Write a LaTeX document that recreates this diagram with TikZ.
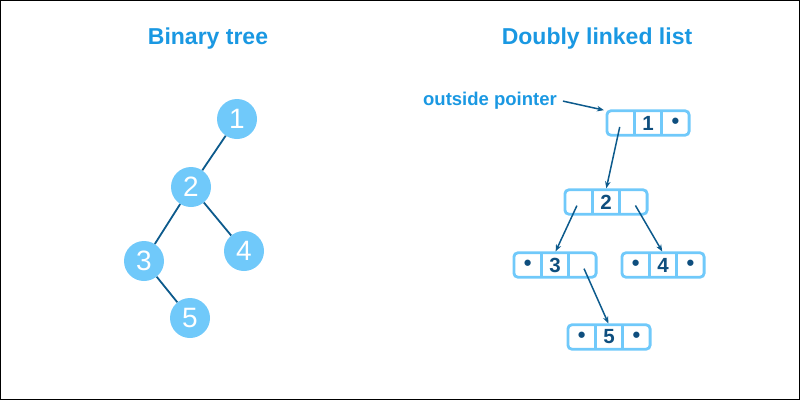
\documentclass[tikz,border=0pt]{standalone}
\usepackage{fontspec}
\setmainfont{Liberation Sans}
\usetikzlibrary{positioning,fit,arrows.meta}
\definecolor{titleblue}{HTML}{1A98E2}
\definecolor{nodeblue}{HTML}{70C9FA}
\definecolor{linkblue}{HTML}{0C5A8C}
\definecolor{textblue}{HTML}{0E4E7E}
\newcommand{\nullmark}{{\fontsize{22}{22}\selectfont\textbullet}}
\begin{document}
\begin{tikzpicture}[x=1pt, y=-1pt,
    title/.style={anchor=base, text=titleblue, font=\fontsize{23}{26}\selectfont\bfseries},
    treenode/.style={circle, fill=nodeblue, minimum size=40pt, inner sep=0pt, text=white, font=\fontsize{28}{30}\selectfont},
    edge/.style={linkblue, line width=1.8pt},
    cell/.style={minimum width=27pt, minimum height=24pt, inner sep=0pt, text=textblue, font=\fontsize{20.5}{22}\selectfont\bfseries},
    listbox/.style={draw=nodeblue, line width=2.8pt, rounded corners=4pt, inner sep=0pt},
    link/.style={linkblue, line width=1.5pt, -{Stealth[length=7pt,width=5.5pt]}}]
  \useasboundingbox (0,0) rectangle (800,400);
  \draw[black, line width=1pt] (0.5,0.5) rectangle (799.5,399.5);
  \node[title] (treetitle) at (208,44) {Binary tree};
  \node[title] (listtitle) at (597,44) {Doubly linked list};
  \node[treenode] (t1) at (237,119) {1};
  \node[treenode] (t2) at (191,187) {2};
  \node[treenode] (t3) at (144,261) {3};
  \node[treenode] (t4) at (244,251) {4};
  \node[treenode] (t5) at (190,318) {5};
  \draw[edge] (t1) -- (t2) (t2) -- (t3) (t2) -- (t4) (t3) -- (t5);
  \foreach \n/\x/\y/\lc/\rc in {1/648/123/{}/\nullmark, 2/606/202/{}/{}, 3/555/265/\nullmark/{}, 4/663/265/\nullmark/\nullmark, 5/609/337/\nullmark/\nullmark}{
    \node[cell] (m\n) at (\x,\y) {\n};
    \node[cell, left=0pt of m\n] (l\n) {\lc};
    \node[cell, right=0pt of m\n] (r\n) {\rc};
    \node[listbox, fit=(l\n)(r\n)] (b\n) {};
    \draw[nodeblue, line width=2.8pt] (l\n.north east) -- (l\n.south east) (r\n.north west) -- (r\n.south west);
  }
  \node[anchor=base east, text=titleblue, font=\fontsize{18.5}{20}\selectfont\bfseries, inner sep=2pt] (ptr) at (559,105) {outside pointer};
  \draw[link, shorten <=4pt, shorten >=3pt] (ptr.east) -- (l1.north west);
  \draw[link, shorten <=4pt, shorten >=1.5pt] (l1.center) -- (m2.north);
  \draw[link, shorten <=4pt, shorten >=1.5pt] (l2.center) -- (m3.north);
  \draw[link, shorten <=4pt, shorten >=1.5pt] (r2.center) -- (m4.north);
  \draw[link, shorten <=4pt, shorten >=1.5pt] (r3.center) -- (m5.north);
\end{tikzpicture}
\end{document}
